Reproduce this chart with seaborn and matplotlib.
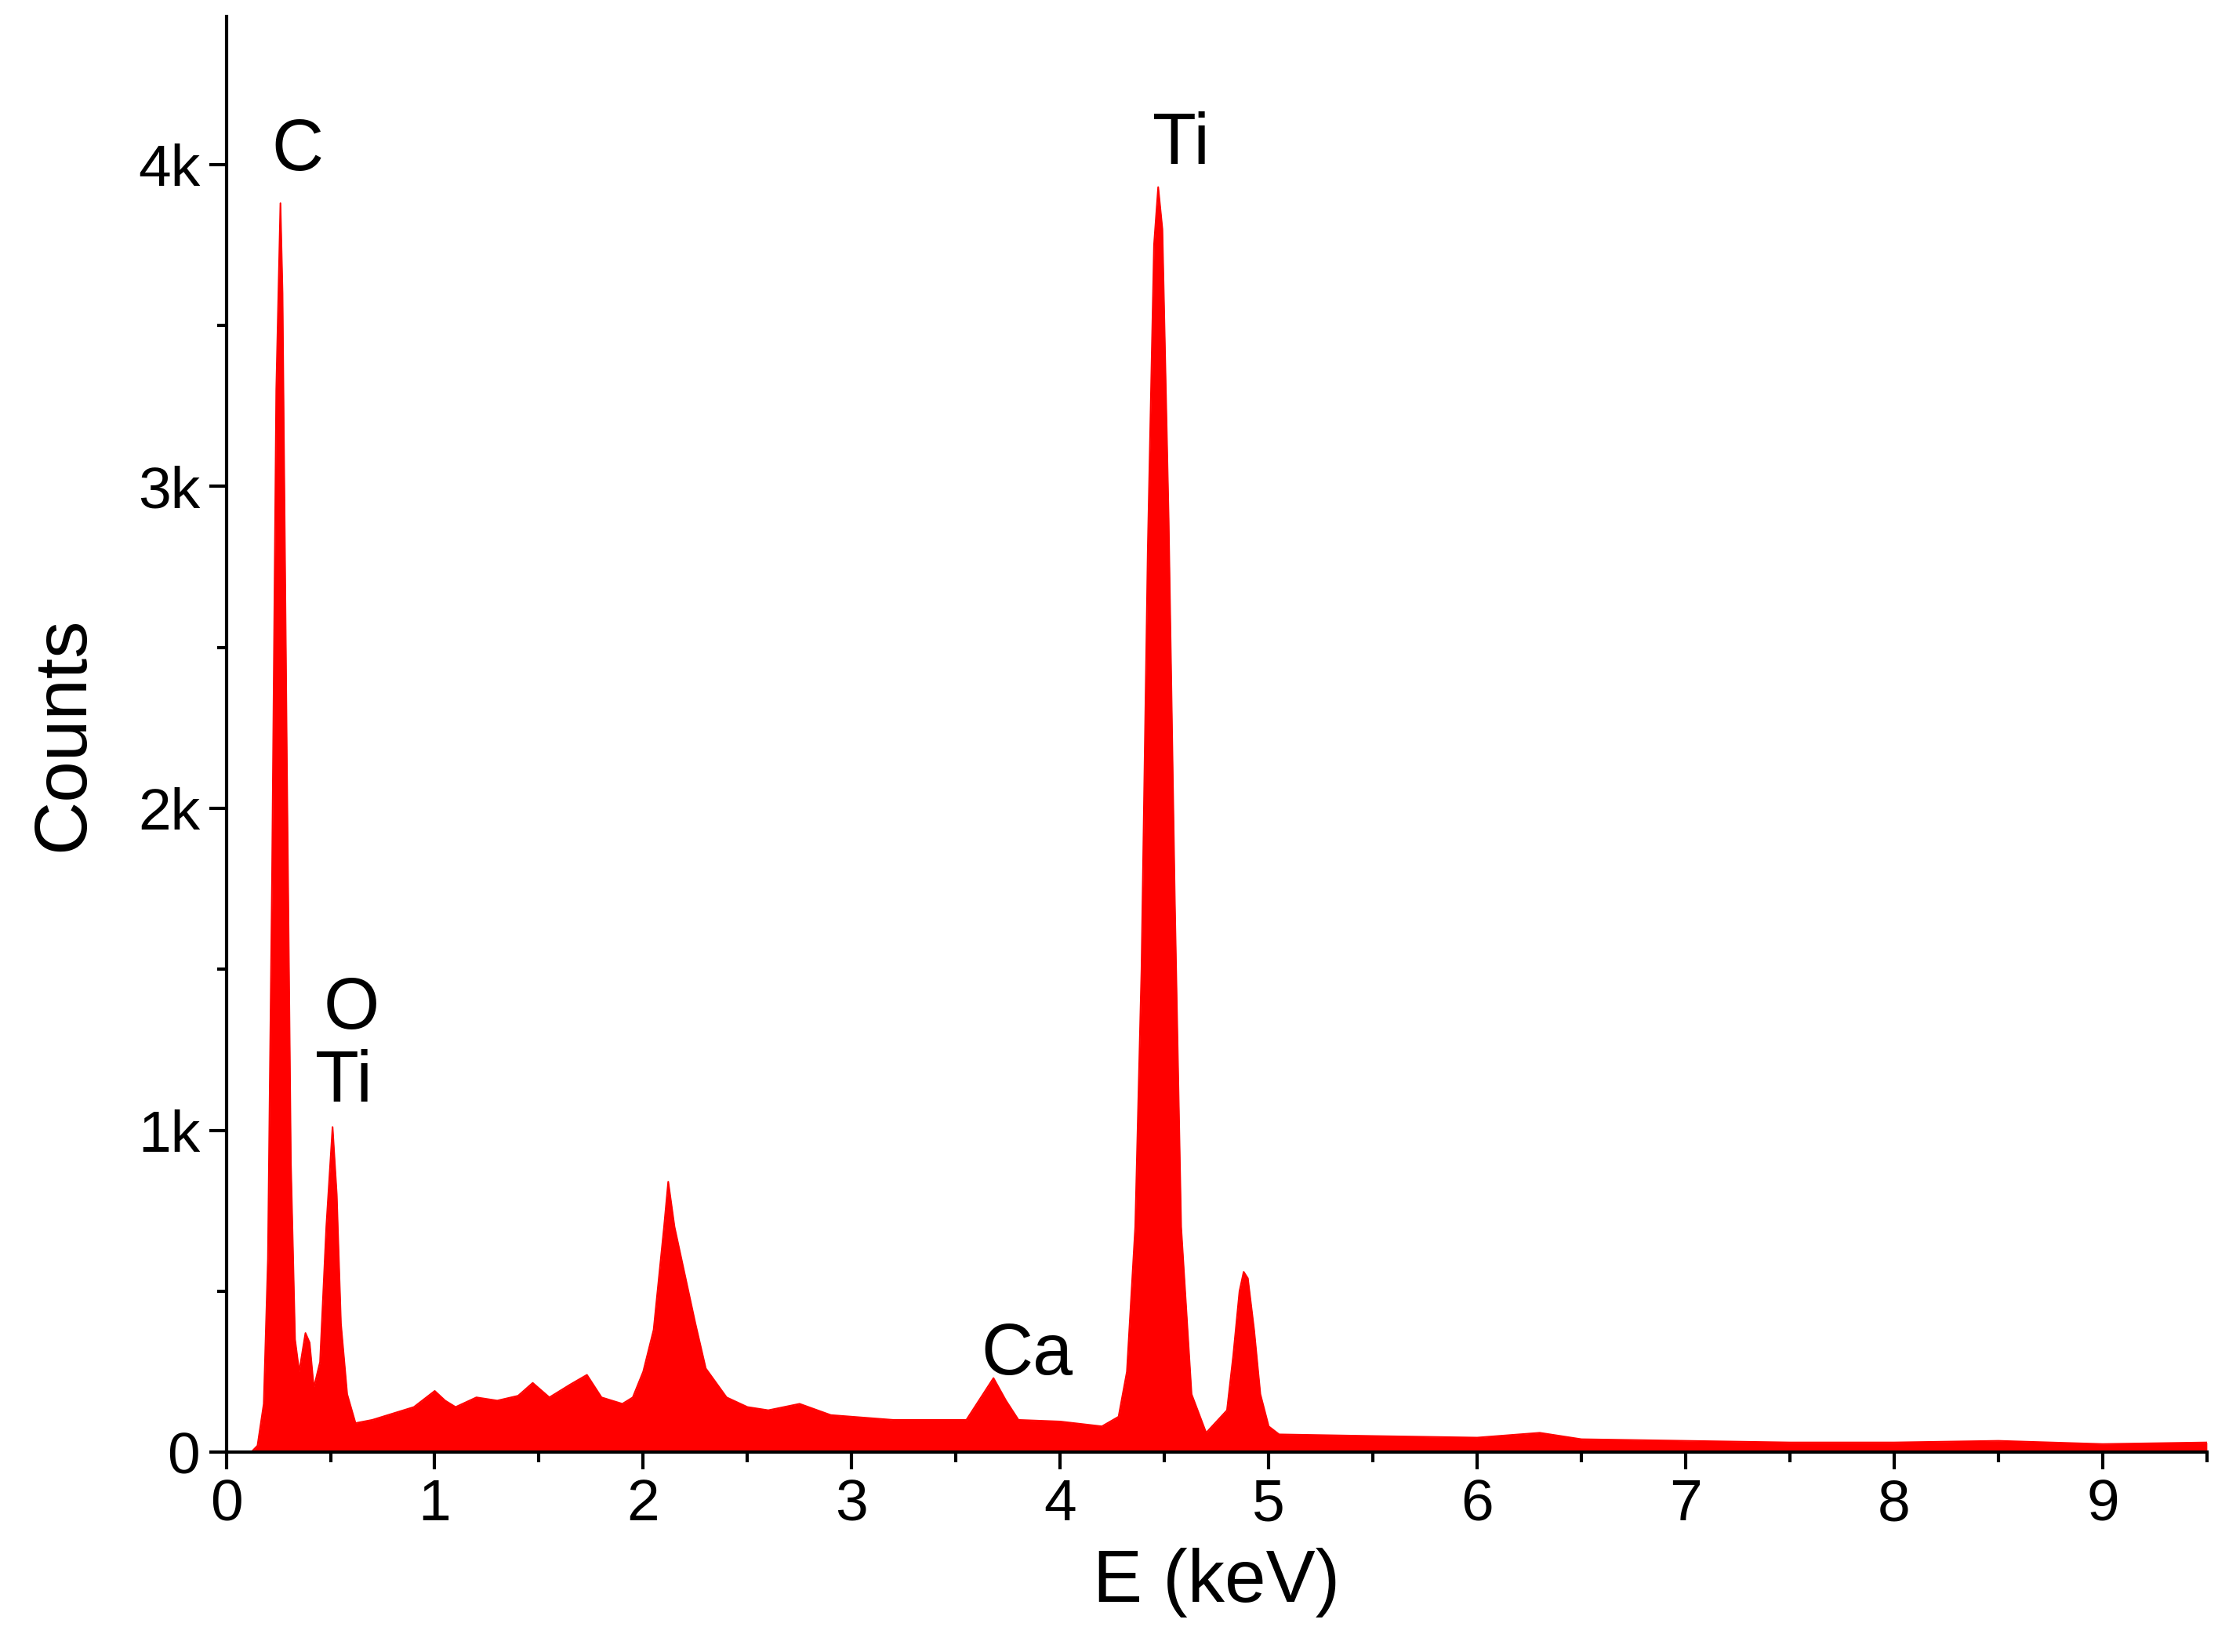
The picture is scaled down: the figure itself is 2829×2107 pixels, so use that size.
import matplotlib
matplotlib.use("Agg")
import matplotlib.pyplot as plt
import seaborn as sns
import pandas as pd
from matplotlib.ticker import MultipleLocator, FuncFormatter

# spectrum (keV, counts)
energia = [0.0, 0.12, 0.15, 0.18, 0.20, 0.22, 0.24, 0.26, 0.27, 0.29, 0.31, 0.33, 0.35, 0.38, 0.40,
           0.42, 0.45, 0.48, 0.51, 0.53, 0.55, 0.58, 0.62, 0.70, 0.80, 0.90, 1.00, 1.05, 1.10, 1.20,
           1.30, 1.40, 1.47, 1.55, 1.65, 1.73, 1.80, 1.90, 1.95, 2.00, 2.05, 2.10, 2.12, 2.15, 2.20,
           2.25, 2.30, 2.40, 2.50, 2.60, 2.75, 2.90, 3.00, 3.20, 3.40, 3.55, 3.62, 3.68, 3.74, 3.80,
           4.00, 4.20, 4.28, 4.32, 4.36, 4.39, 4.42, 4.45, 4.47, 4.49, 4.52, 4.55, 4.58, 4.63, 4.70,
           4.80, 4.83, 4.86, 4.88, 4.90, 4.93, 4.96, 5.00, 5.05, 5.50, 6.00, 6.30, 6.50, 7.00, 7.50,
           8.00, 8.50, 9.00, 9.50]
cuentas = [0, 0, 20, 150, 600, 1800, 3300, 3880, 3600, 2200, 900, 350, 250, 370, 340,
           200, 280, 700, 1010, 800, 400, 180, 90, 100, 120, 140, 190, 160, 140, 170,
           160, 175, 215, 170, 210, 240, 170, 150, 170, 250, 380, 700, 840, 700, 550,
           400, 260, 170, 140, 130, 150, 115, 110, 100, 100, 100, 170, 230, 160, 100,
           95, 80, 110, 250, 700, 1500, 2800, 3750, 3930, 3800, 2900, 1700, 700, 180, 60,
           130, 300, 500, 560, 540, 380, 180, 80, 55, 50, 45, 60, 40, 35, 30,
           30, 35, 25, 30]

etiquetas = ["C", "Ti", "O", "Ti", "Ca"]
etiqueta_x = [0.34, 4.58, 0.60, 0.565, 3.84]
etiqueta_y = [4040, 4060, 1373, 1148, 300]

df = pd.DataFrame({"E": energia, "Counts": cuentas})

sns.set_style("ticks")
plt.rcParams["font.family"] = ["Liberation Sans", "DejaVu Sans"]
plt.rcParams["text.color"] = "black"
plt.rcParams["axes.labelcolor"] = "black"
plt.rcParams["xtick.color"] = "black"
plt.rcParams["ytick.color"] = "black"

fig = plt.figure(figsize=(28.29, 21.07), dpi=100)
ax = fig.add_axes([0.102, 0.121, 0.893, 0.869])
sns.lineplot(data=df, x="E", y="Counts", color="red", linewidth=1.5, ax=ax)
ax.fill_between(df["E"], df["Counts"], color="red", linewidth=0)

for t, x, y in zip(etiquetas, etiqueta_x, etiqueta_y):
    ax.text(x, y, t, fontsize=66, ha="center", va="center")

ax.set_xlim(0, 9.5)
ax.set_ylim(0, 4460)
ax.xaxis.set_major_locator(MultipleLocator(1))
ax.xaxis.set_minor_locator(MultipleLocator(0.5))
ax.yaxis.set_major_locator(MultipleLocator(1000))
ax.yaxis.set_minor_locator(MultipleLocator(500))
ax.yaxis.set_major_formatter(FuncFormatter(lambda v, p: "0" if v == 0 else f"{int(v/1000)}k"))
ax.tick_params(which="major", length=16, width=3, labelsize=54, direction="out", pad=8)
ax.tick_params(which="minor", length=9, width=3, direction="out")
ax.set_xlabel("E (keV)", fontsize=68, labelpad=14)
ax.set_ylabel("Counts", fontsize=68, labelpad=36)
for s in ["left", "bottom"]:
    ax.spines[s].set_linewidth(3)
    ax.spines[s].set_color("black")
ax.spines[["top", "right"]].set_visible(False)

fig.savefig("out.png", dpi=100)
